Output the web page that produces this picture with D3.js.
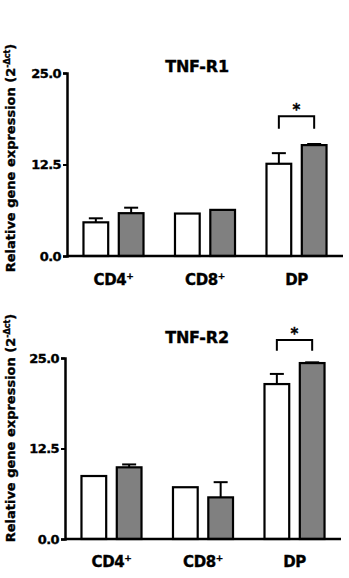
<!DOCTYPE html>
<html><head><meta charset="utf-8">
<script src="https://cdn.jsdelivr.net/npm/d3@7"></script>
<style>
html,body{margin:0;padding:0;background:#fff;}
svg{display:block;}
text{font-family:"DejaVu Sans","Liberation Sans",Arial,sans-serif;font-weight:bold;fill:#000;stroke:#000;stroke-width:0.35px;}
</style></head>
<body>
<script>
// ---- data ----
const catBase = ["CD4", "CD8", "DP"];
const catSup = ["+", "+", ""];
const series = ["control", "treated"];
const seriesFill = ["#ffffff", "#808080"];
const tickValues = [0, 12.5, 25];
const titles = ["TNF-R1", "TNF-R2"];

const r1White = [4.6, 5.8, 12.6];
const r1WhiteErr = [0.55, 0, 1.45];
const r1Grey = [5.85, 6.3, 15.15];
const r1GreyErr = [0.75, 0, 0.15];

const r2White = [8.7, 7.15, 21.4];
const r2WhiteErr = [0, 0, 1.4];
const r2Grey = [9.9, 5.75, 24.3];
const r2GreyErr = [0.4, 2.1, 0.1];

const sigCategory = ["DP", "DP"];
const sigTop = [19.1, 27.5];
const sigArm = [17.4, 26.0];

const W = 349, H = 578;
const svg = d3.select("body").append("svg").attr("width", W).attr("height", H);

const panels = [
  {title: titles[0], vals: [r1White, r1Grey], errs: [r1WhiteErr, r1GreyErr],
   x0: 67, x1: 343, y0: 256, y1: 73, titleY: 71.5, catY: 285, labelCY: 158, sig: 0},
  {title: titles[1], vals: [r2White, r2Grey], errs: [r2WhiteErr, r2GreyErr],
   x0: 65, x1: 341, y0: 539, y1: 358, titleY: 343, catY: 566.5, labelCY: 428, sig: 1}
];

panels.forEach(p => {
  const g = svg.append("g");
  const y = d3.scaleLinear().domain([0, 25]).range([p.y0, p.y1]);
  const x = d3.scaleBand().domain(catBase).range([p.x0, p.x1]).paddingInner(0.344).paddingOuter(0.18);
  const xs = d3.scaleBand().domain(series).range([0, x.bandwidth()]).paddingInner(0.3);

  // bars
  catBase.forEach((c, i) => {
    series.forEach((s, j) => {
      const v = p.vals[j][i], e = p.errs[j][i];
      const bx = x(c) + xs(s), bw = xs.bandwidth();
      const cx = bx + bw / 2;
      if (e > 0) {
        g.append("line").attr("x1", cx).attr("x2", cx).attr("y1", y(v)).attr("y2", y(v + e))
          .attr("stroke", "#000").attr("stroke-width", 2);
        g.append("line").attr("x1", cx - 7).attr("x2", cx + 7).attr("y1", y(v + e)).attr("y2", y(v + e))
          .attr("stroke", "#000").attr("stroke-width", 2);
      }
      g.append("rect").attr("x", bx).attr("y", y(v)).attr("width", bw).attr("height", y(0) - y(v))
        .attr("fill", seriesFill[j]).attr("stroke", "#000").attr("stroke-width", 2.2);
    });
  });

  // y axis
  const ya = d3.axisLeft(y).tickValues(tickValues).tickFormat(d3.format(".1f")).tickSize(4).tickPadding(2);
  const yg = g.append("g").attr("transform", `translate(${p.x0},0)`).call(ya);
  yg.select(".domain").attr("stroke", "#000").attr("stroke-width", 2.5);
  yg.selectAll(".tick line").attr("stroke", "#000").attr("stroke-width", 2);
  yg.selectAll(".tick text").attr("font-size", 13).attr("font-family", "DejaVu Sans").attr("font-weight", "bold")
    .attr("letter-spacing", "-0.6px").attr("fill", "#000");

  // x axis line
  g.append("line").attr("x1", p.x0).attr("x2", p.x1).attr("y1", y(0)).attr("y2", y(0))
    .attr("stroke", "#000").attr("stroke-width", 2.5);

  // category labels
  catBase.forEach((c, i) => {
    const t = g.append("text").attr("x", x(c) + x.bandwidth() / 2).attr("y", p.catY)
      .attr("text-anchor", "middle").attr("font-size", 15).attr("letter-spacing", "-0.4px");
    t.append("tspan").text(c);
    if (catSup[i]) t.append("tspan").attr("font-size", 9).attr("dy", -6).text(catSup[i]);
  });

  // title
  g.append("text").attr("x", 197).attr("y", p.titleY).attr("text-anchor", "middle")
    .attr("font-size", 16).attr("letter-spacing", "-0.2px").text(p.title);

  // y label
  const yl = g.append("text").attr("transform", `translate(15,${p.labelCY}) rotate(-90)`)
    .attr("text-anchor", "middle").attr("font-size", 13);
  yl.append("tspan").text("Relative gene expression (2");
  yl.append("tspan").attr("font-size", 8).attr("dy", -5).text("-Δct");
  yl.append("tspan").attr("dy", 5).text(")");

  // significance bracket
  const sc = sigCategory[p.sig];
  const xa = x(sc) + xs(series[0]) + xs.bandwidth() / 2;
  const xb = x(sc) + xs(series[1]) + xs.bandwidth() / 2;
  const yt = y(sigTop[p.sig]), yb = y(sigArm[p.sig]);
  g.append("path").attr("d", `M${xa},${yb}V${yt}H${xb}V${yb}`).attr("fill", "none")
    .attr("stroke", "#000").attr("stroke-width", 2);
  g.append("text").attr("x", (xa + xb) / 2).attr("y", yt - 1).attr("text-anchor", "middle")
    .attr("font-size", 15).text("*");
});
</script>
</body></html>
